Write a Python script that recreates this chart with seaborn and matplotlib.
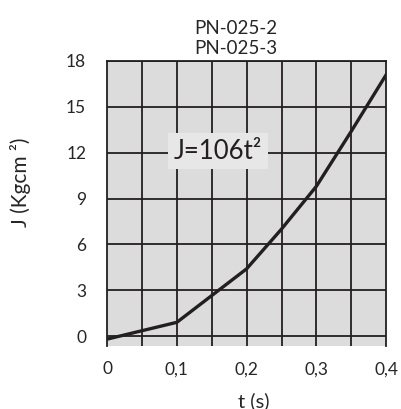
import matplotlib
matplotlib.use("Agg")
import matplotlib.pyplot as plt
import seaborn as sns
import pandas as pd

# values
t_values = [0.0, 0.1, 0.2, 0.25, 0.3, 0.35, 0.4]
j_values = [-0.2, 0.9, 4.4, 7.0, 9.8, 13.4, 17.1]
x_tick_labels = ["0", "", "0,1", "", "0,2", "", "0,3", "", "0,4"]
y_ticks = [0, 3, 6, 9, 12, 15, 18]

df = pd.DataFrame({"t": t_values, "J": j_values})

sns.set_style("white")
plt.rcParams["font.family"] = ["Lato", "DejaVu Sans"]

fig = plt.figure(figsize=(4.01, 4.09), dpi=100)
ax = fig.add_axes([0.267, 0.154, 0.696, 0.697])
ax.set_facecolor("#dcdcdc")

sns.lineplot(data=df, x="t", y="J", ax=ax, color="#231f20", linewidth=2.4)

ax.set_xlim(0, 0.4)
ax.set_ylim(-0.65, 18)

# grid
x_grid = [i * 0.05 for i in range(9)]
for xv in x_grid[1:-1]:
    ax.axvline(xv, color="#231f20", linewidth=1.3, zorder=1)
for yv in y_ticks:
    ax.axhline(yv, color="#231f20", linewidth=1.3, zorder=1)

ax.set_xticks(x_grid)
ax.set_xticklabels(x_tick_labels, fontsize=12.5)
ax.set_yticks(y_ticks)
ax.set_yticklabels([str(v) for v in y_ticks], fontsize=12.5)
ax.tick_params(axis="x", direction="out", length=3, width=1.3, color="#231f20", pad=8)
ax.tick_params(axis="y", direction="out", length=5, width=1.3, color="#231f20", pad=10)

ax.spines["bottom"].set_visible(False)
for s in ["left", "right", "top"]:
    ax.spines[s].set_color("#231f20")
    ax.spines[s].set_linewidth(1.3)

ax.set_xlabel("t (s)", fontsize=14.5)
ax.xaxis.set_label_coords(0.525, -0.161)
ax.set_ylabel("J (Kgcm ²)", fontsize=15)
ax.yaxis.set_label_coords(-0.272, 0.575)
ax.set_title("PN-025-2\nPN-025-3", fontsize=13.5, linespacing=1.2, pad=5, x=0.46)

ax.text(0.159, 12.1, "J=106t²", fontsize=18.5, ha="center", va="center",
        color="#231f20", zorder=5,
        bbox=dict(boxstyle="square,pad=0.22", facecolor="#e7e7e8", edgecolor="none"))

fig.savefig("out.png", dpi=100)
